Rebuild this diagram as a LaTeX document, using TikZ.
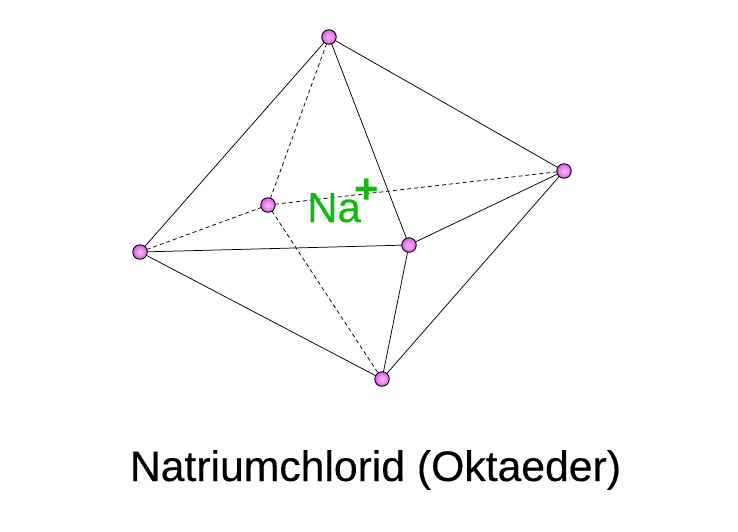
\documentclass[tikz,border=0pt]{standalone}
\usepackage{fontspec}
\setmainfont{Liberation Sans}
\newfontfamily\heavyfont[FakeBold=0.25]{Liberation Sans}
\definecolor{nagreen}{RGB}{10,190,10}
\definecolor{atomin}{RGB}{252,200,252}
\definecolor{atomout}{RGB}{230,80,240}
\tikzset{
  atomb/.style={circle,draw=black,line width=0.9pt,inner sep=0pt,minimum size=14.5pt,inner color=atomin,outer color=atomout},
  edge/.style={line width=0.75pt,black},
  hidden/.style={line width=0.75pt,black,dash pattern=on 4pt off 3pt},
  bigtext/.style={font=\fontsize{42.7}{43}\heavyfont,inner sep=0pt}
}
\begin{document}
\begin{tikzpicture}[x=1pt,y=-1pt]
\useasboundingbox (0,0) rectangle (738,531);
\fill[white] (0,0) rectangle (738,531);
\coordinate (T) at (329,37);
\coordinate (R) at (564,171);
\coordinate (B) at (382,379);
\coordinate (L) at (140,252);
\coordinate (F) at (409,245);
\coordinate (H) at (268,205);
\draw[hidden] (T) -- (H);
\draw[hidden] (L) -- (H);
\draw[hidden] (H) -- (R);
\draw[hidden] (H) -- (B);
\draw[edge] (T) -- (L);
\draw[edge] (T) -- (R);
\draw[edge] (T) -- (F);
\draw[edge] (L) -- (F);
\draw[edge] (F) -- (R);
\draw[edge] (F) -- (B);
\draw[edge] (L) -- (B);
\draw[edge] (R) -- (B);
\node[atomb] (nT) at (T) {};
\node[atomb] (nR) at (R) {};
\node[atomb] (nB) at (B) {};
\node[atomb] (nL) at (L) {};
\node[atomb] (nF) at (F) {};
\node[atomb] (nH) at (H) {};
\node[text=nagreen,font=\fontsize{42}{42}\heavyfont,anchor=base west,inner sep=0pt] (na) at (307,222) {Na};
\node[text=nagreen,font=\fontsize{42}{42}\selectfont\bfseries,anchor=center,inner sep=0pt] (plus) at (367,191) {+};
\node[text=black,bigtext,anchor=base] (title) at (375.5,481) {Natriumchlorid (Oktaeder)};
\end{tikzpicture}
\end{document}
